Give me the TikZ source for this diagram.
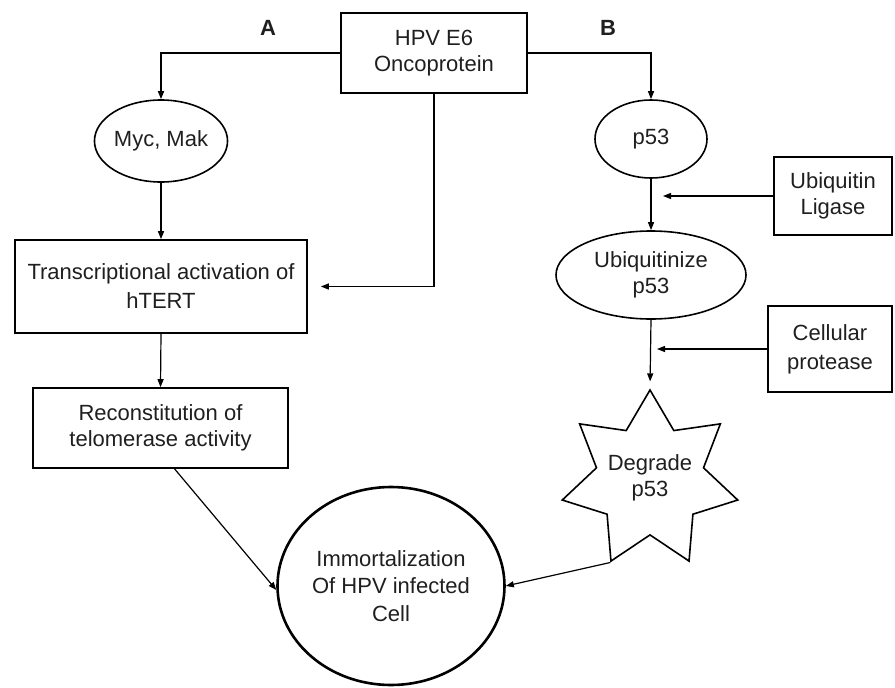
\documentclass[tikz,border=0pt]{standalone}
\usepackage{fontspec}
\setmainfont{Liberation Sans}
\usetikzlibrary{shapes.geometric,arrows.meta}
\begin{document}
\begin{tikzpicture}[x=1pt,y=-1pt,
  every node/.style={font=\fontsize{22}{26}\selectfont, text=black!88, align=center, inner sep=0pt},
  box/.style={draw, line width=1.6pt, rectangle},
  oval/.style={draw, line width=1.6pt, ellipse},
  arr/.style={line width=1.2pt, -{Triangle[length=8pt,width=6pt]}},
  ln/.style={line width=1.2pt}
]
\useasboundingbox (0,0) rectangle (895,688);
\node[box, minimum width=186pt, minimum height=80pt] (hpv) at (434,53) {HPV E6\\Oncoprotein};
\node[font=\fontsize{22}{24}\bfseries\selectfont] (la) at (268,28) {A};
\node[font=\fontsize{22}{24}\bfseries\selectfont] (lb) at (608,28) {B};
\node[oval, minimum width=122pt, minimum height=82pt] (myc) at (161,141) {Myc, Mak};
\node[oval, minimum width=112pt, minimum height=78pt] (p53) at (651,139) {p53};
\node[box, minimum width=292pt, minimum height=93pt, font=\fontsize{22}{29}\selectfont] (trans) at (161,286.5) {Transcriptional activation of\\hTERT};
\node[box, minimum width=255pt, minimum height=80pt] (rec) at (160.5,428) {Reconstitution of\\telomerase activity};
\node[draw, ellipse, line width=2.6pt, minimum width=227pt, minimum height=198pt, font=\fontsize{22}{27.5}\selectfont] (circ) at (391,586) {Immortalization\\Of HPV infected\\Cell};
\node[oval, minimum width=190pt, minimum height=88pt] (ubq) at (651,275) {Ubiquitinize\\p53};
\node[box, minimum width=118pt, minimum height=78pt] (lig) at (833,196) {Ubiquitin\\Ligase};
\node[box, minimum width=124pt, minimum height=86pt, font=\fontsize{22}{29}\selectfont] (prot) at (830,349) {Cellular\\protease};
\node[draw, line width=1.6pt, star, star points=7, star point ratio=1.64, minimum size=180pt] (deg) at (650,480) {};
\node (degtext) at (650,478) {Degrade\\p53};
\coordinate (ligtip) at (663,196);
\coordinate (prottip) at (657,349);
\draw[arr] (hpv.west) -| (myc.north);
\draw[arr] (hpv.east) -| (p53.north);
\draw[arr, shorten >=13pt] (hpv.south) |- (trans.east);
\draw[arr] (myc.south) -- (trans.north);
\draw[arr] (trans.south) -- (rec.north);
\draw[arr] ([xshift=14pt]rec.south) -- (circ.182);
\draw[arr] (p53.south) -- (ubq.north);
\draw[arr] (lig.west) -- (ligtip);
\draw[arr] (prot.west) -- (prottip);
\draw[arr, shorten >=7pt] (ubq.south) -- (deg.outer point 1);
\draw[arr] (deg.outer point 4) -- (circ.east);
\end{tikzpicture}
\end{document}
